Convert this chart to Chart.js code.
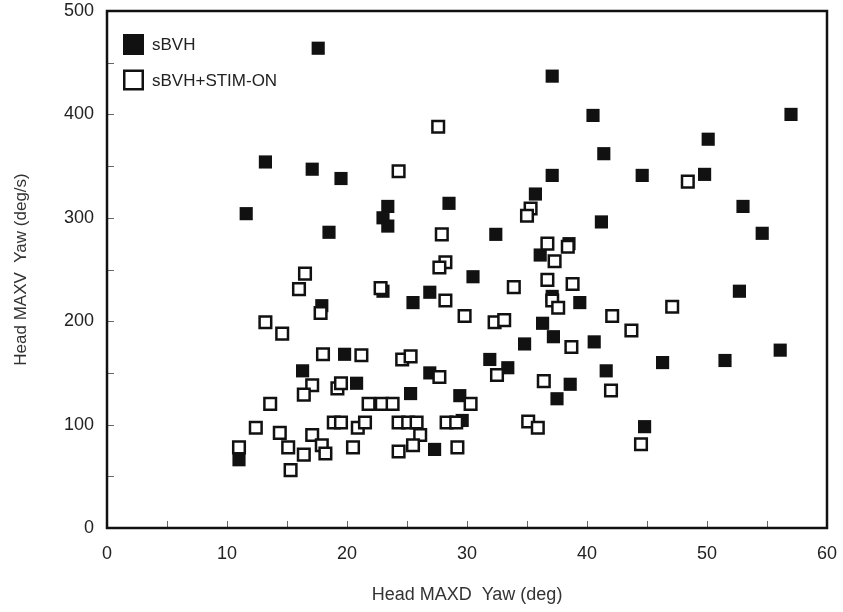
<!DOCTYPE html>
<html>
<head>
<meta charset="utf-8">
<script src="https://cdn.jsdelivr.net/npm/chart.js@4.4.1/dist/chart.umd.min.js"></script>
<style>
  html, body { margin: 0; padding: 0; background: #fff; }
</style>
</head>
<body>
<canvas id="chart" width="843" height="612"></canvas>
<script>
// series names (legend)
const seriesNames = ['sBVH', 'sBVH+STIM-ON'];

// sBVH (filled squares)
const sbvhX = [17.6, 13.2, 17.1, 19.5, 11.6, 23.4, 23.0, 23.4, 18.5, 28.5, 37.1, 40.5, 57.0, 50.1, 41.4,
  37.1, 44.6, 49.8, 35.7, 53.0, 41.2, 32.4, 54.6, 17.9, 19.8, 16.3, 11.0, 38.5, 36.1, 30.5,
  23.0, 26.9, 25.5, 37.1, 39.4, 36.3, 37.2, 34.8, 31.9, 33.4, 26.9, 20.8, 25.3, 29.4, 38.6,
  37.5, 27.3, 29.6, 52.7, 40.6, 46.3, 51.5, 56.1, 41.6, 44.8];
const sbvhY = [464, 354, 347, 338, 304, 311, 300, 292, 286, 314, 437, 399, 400, 376, 362,
  341, 341, 342, 323, 311, 296, 284, 285, 215, 168, 152, 66, 275, 264, 243,
  229, 228, 218, 224, 218, 198, 185, 178, 163, 155, 150, 140, 130, 128, 139,
  125, 76, 104, 229, 180, 160, 162, 172, 152, 98];

// sBVH+STIM-ON (open squares)
const stimX = [27.6, 24.3, 27.9, 48.4, 35.3, 35.0, 16.5, 16.0, 17.8, 13.2, 14.6, 18.0, 17.1, 16.4, 19.2,
  19.5, 13.6, 12.4, 14.4, 15.1, 16.4, 15.3, 17.1, 17.9, 18.2, 18.9, 19.5, 20.5, 11.0, 36.7,
  38.4, 37.3, 28.2, 27.7, 22.8, 28.2, 33.9, 36.7, 38.8, 37.1, 37.6, 29.8, 32.3, 33.1, 38.7,
  21.2, 24.6, 25.3, 32.5, 27.7, 30.3, 36.4, 21.8, 22.9, 23.8, 20.9, 21.5, 24.3, 25.1, 25.8,
  26.1, 25.5, 24.3, 29.2, 28.3, 29.1, 35.1, 35.9, 42.1, 43.7, 47.1, 42.0, 44.5];
const stimY = [388, 345, 284, 335, 309, 302, 246, 231, 208, 199, 188, 168, 138, 129, 135,
  140, 120, 97, 92, 78, 71, 56, 90, 80, 72, 102, 102, 78, 78, 275,
  272, 258, 257, 252, 232, 220, 233, 240, 236, 220, 213, 205, 199, 201, 175,
  167, 163, 166, 148, 146, 120, 142, 120, 120, 120, 97, 102, 102, 102, 102,
  90, 80, 74, 78, 102, 102, 103, 97, 205, 191, 214, 133, 81];

// axis ticks
const xTicks = [0, 10, 20, 30, 40, 50, 60];
const yTicks = [0, 100, 200, 300, 400, 500];
const xMinorTicks = [5, 10, 15, 20, 25, 30, 35, 40, 45, 50, 55];
const yMinorTicks = [50, 100, 150, 200, 250, 300, 350, 400, 450];

const toPoints = (xs, ys) => xs.map((x, i) => ({ x: x, y: ys[i] }));

// box around the plot + small inward ticks
const framePlugin = {
  id: 'frame',
  beforeDatasetsDraw(chart) {
    const { ctx, chartArea: a, scales } = chart;
    ctx.save();
    ctx.strokeStyle = '#666';
    ctx.lineWidth = 1;
    ctx.beginPath();
    xMinorTicks.forEach(v => {
      const px = Math.round(scales.x.getPixelForValue(v)) + 0.5;
      ctx.moveTo(px, a.bottom);
      ctx.lineTo(px, a.bottom - 7);
    });
    yMinorTicks.forEach(v => {
      const py = Math.round(scales.y.getPixelForValue(v)) + 0.5;
      ctx.moveTo(a.left, py);
      ctx.lineTo(a.left + 7, py);
    });
    ctx.stroke();
    ctx.strokeStyle = '#111';
    ctx.lineWidth = 2.5;
    ctx.strokeRect(a.left, a.top, a.right - a.left, a.bottom - a.top);
    ctx.restore();
  }
};

// legend in the upper left corner of the plot
const legendPlugin = {
  id: 'innerLegend',
  afterDraw(chart) {
    const { ctx, chartArea: a } = chart;
    ctx.save();
    ctx.font = '17px "Liberation Sans", Arial, sans-serif';
    ctx.textBaseline = 'middle';
    chart.data.datasets.forEach((ds, i) => {
      const cy = a.top + 33.5 + i * 35.5;
      const bx = a.left + 16;
      if (i === 0) {
        ctx.fillStyle = '#111';
        ctx.fillRect(bx, cy - 10.5, 21, 21);
      } else {
        ctx.fillStyle = '#fff';
        ctx.strokeStyle = '#111';
        ctx.lineWidth = 2.5;
        ctx.fillRect(bx + 1, cy - 9.5, 19, 19);
        ctx.strokeRect(bx + 1.25, cy - 9.25, 18.5, 18.5);
      }
      ctx.fillStyle = '#222';
      ctx.fillText(ds.label, a.left + 45, cy + 1);
    });
    ctx.restore();
  }
};

new Chart(document.getElementById('chart'), {
  type: 'scatter',
  data: {
    datasets: [{
      label: seriesNames[0],
      data: toPoints(sbvhX, sbvhY),
      pointStyle: 'rect',
      pointRadius: 9.3,
      pointHoverRadius: 9.3,
      backgroundColor: '#111',
      borderColor: '#111',
      borderWidth: 0,
      order: 2
    }, {
      label: seriesNames[1],
      data: toPoints(stimX, stimY),
      pointStyle: 'rect',
      pointRadius: 8.2,
      pointHoverRadius: 8.2,
      backgroundColor: '#fff',
      borderColor: '#111',
      borderWidth: 2.5,
      order: 1
    }]
  },
  options: {
    responsive: false,
    animation: false,
    devicePixelRatio: 1,
    clip: false,
    layout: { padding: { top: 11, right: 16, left: 0, bottom: 0 } },
    plugins: {
      legend: { display: false },
      tooltip: { enabled: false }
    },
    scales: {
      x: {
        type: 'linear',
        min: 0,
        max: 60,
        afterBuildTicks: s => { s.ticks = xTicks.map(v => ({ value: v })); },
        afterFit: s => { s.height = 84; s.paddingLeft = 0; s.paddingRight = 0; },
        grid: { display: false, drawTicks: false },
        border: { display: false },
        ticks: {
          padding: 15,
          color: '#222',
          font: { family: '"Liberation Sans", Arial, sans-serif', size: 18 }
        },
        title: {
          display: true,
          text: 'Head MAXD  Yaw (deg)',
          color: '#333',
          padding: { top: 4, bottom: 6 },
          font: { family: '"Liberation Sans", Arial, sans-serif', size: 18 }
        }
      },
      y: {
        type: 'linear',
        min: 0,
        max: 500,
        afterBuildTicks: s => { s.ticks = yTicks.map(v => ({ value: v })); },
        afterFit: s => { s.width = 107; s.paddingTop = 0; s.paddingBottom = 0; },
        grid: { display: false, drawTicks: false },
        border: { display: false },
        ticks: {
          padding: 13,
          color: '#222',
          font: { family: '"Liberation Sans", Arial, sans-serif', size: 18 }
        },
        title: {
          display: true,
          text: 'Head MAXV  Yaw (deg/s)',
          color: '#333',
          padding: { top: 11, bottom: 4 },
          font: { family: '"Liberation Sans", Arial, sans-serif', size: 17 }
        }
      }
    }
  },
  plugins: [framePlugin, legendPlugin]
});
</script>
</body>
</html>
